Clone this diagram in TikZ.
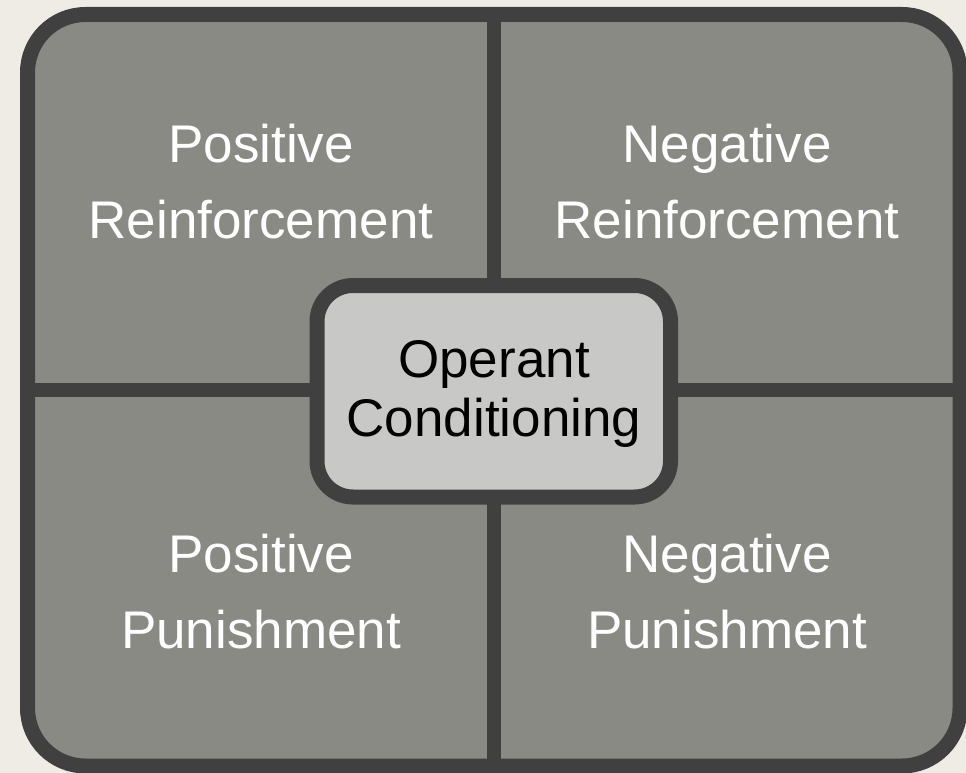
\documentclass[tikz,border=0pt]{standalone}
\usepackage{fontspec}
\setmainfont{Liberation Sans}
\definecolor{bgc}{HTML}{EFECE5}
\definecolor{darkc}{HTML}{404040}
\definecolor{cellc}{HTML}{8A8A85}
\definecolor{centerc}{HTML}{C8C8C6}
\begin{document}
\begin{tikzpicture}[x=1pt,y=-1pt,
  frame/.style={draw=darkc,line width=15pt,inner sep=0pt,outer sep=0pt},
  divider/.style={draw=darkc,line width=14pt},
  cornertext/.style={text=white,align=center,anchor=base,inner sep=0pt,font=\fontsize{53}{76}\selectfont},
  centertext/.style={text=black,align=center,anchor=base,inner sep=0pt,font=\fontsize{53}{59}\selectfont}]
\useasboundingbox[fill=bgc] (0,0) rectangle (966,773);
\node[frame,fill=cellc,rounded corners=58pt,minimum width=932.5pt,minimum height=751.5pt] (outer) at (493.75,390.25) {};
\draw[divider] (outer.north) -- (outer.south);
\draw[divider] (outer.west) -- (outer.east);
\node[frame,fill=centerc,rounded corners=36pt,minimum width=353.5pt,minimum height=211.5pt] (center) at (493.75,391.25) {};
\node[cornertext] (pr) at (261,238) {Positive\\Reinforcement};
\node[cornertext] (nr) at (727,238) {Negative\\Reinforcement};
\node[cornertext] (pp) at (261,648) {Positive\\Punishment};
\node[cornertext] (np) at (727,648) {Negative\\Punishment};
\node[centertext] (oc) at (494,436) {Operant\\Conditioning};
\end{tikzpicture}
\end{document}
